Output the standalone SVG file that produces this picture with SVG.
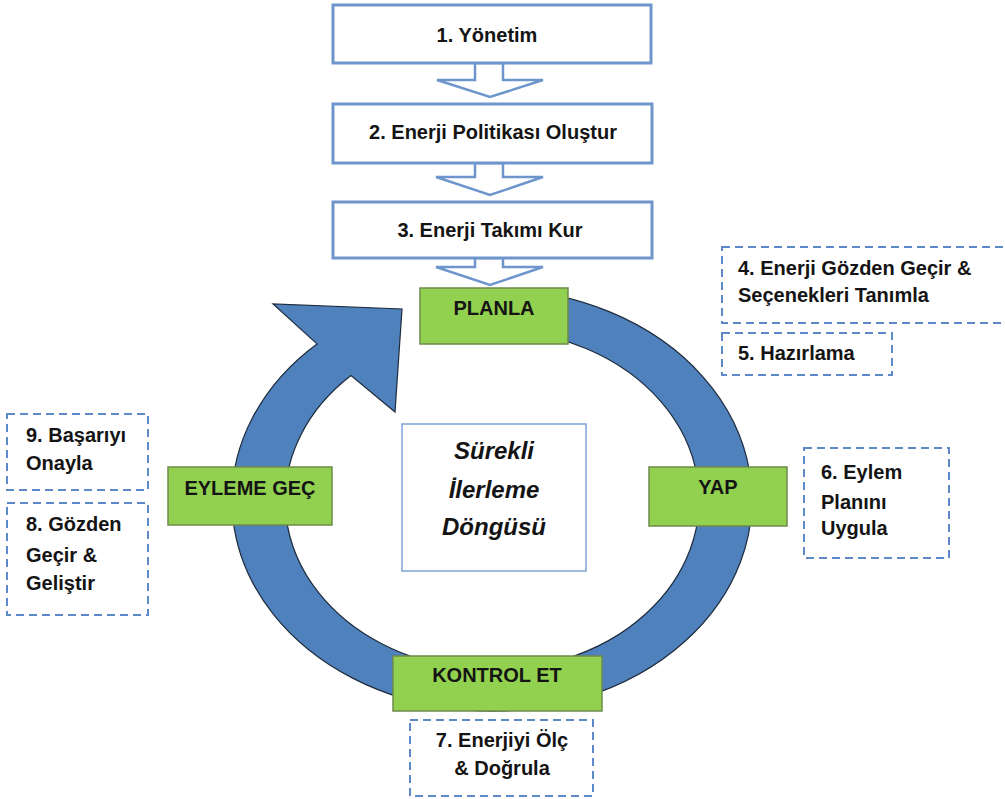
<svg xmlns="http://www.w3.org/2000/svg" width="1005" height="799" viewBox="0 0 1005 799">
<style>
  .t{font-family:"Liberation Sans",Arial,sans-serif;font-weight:bold;font-size:20px;fill:#141414}
  .mid{text-anchor:middle}
  .top{fill:#ffffff;stroke:#6e96cc;stroke-width:3}
  .arr{fill:#ffffff;stroke:#6e96cc;stroke-width:2.5;stroke-linejoin:miter}
  .green{fill:#92d050;stroke:#6f8a4a;stroke-width:1.5}
  .dash{fill:#ffffff;stroke:#5d89c8;stroke-width:2;stroke-dasharray:8 5}
  .ring{fill:#4f81bd;stroke:#1e2b3c;stroke-width:1.2;stroke-linejoin:miter}
  .center{fill:#ffffff;stroke:#7ea3d6;stroke-width:1.5}
  .it{font-family:"Liberation Sans",Arial,sans-serif;font-weight:bold;font-style:italic;font-size:24px;fill:#141414;text-anchor:middle}
</style>
<rect width="1005" height="799" fill="#ffffff"/>
<g id="connectors">
  <path class="ring" d="M 500 289.1 A 260 211 0 1 1 317 343.9 L 273 304 L 402 309 L 395 412 L 351 375.6 A 207 170 0 1 0 500 330.1 Z"/>
  <polygon class="arr" points="475,63 503,63 503,80 543,80 490,97 437,80 475,80"/>
  <polygon class="arr" points="475,163 503,163 503,177 543,177 490,195 436,177 475,177"/>
  <polygon class="arr" points="475,258 503,258 503,267 543,267 490,285 436,267 475,267"/>
</g>
<g id="n1">
  <rect class="top" x="333" y="5" width="318" height="58"/>
  <text class="t mid" x="487" y="42">1. Yönetim</text>
</g>
<g id="n2">
  <rect class="top" x="333" y="104" width="319" height="59"/>
  <text class="t mid" x="493" y="139">2. Enerji Politikası Oluştur</text>
</g>
<g id="n3">
  <rect class="top" x="333" y="202" width="319" height="56"/>
  <text class="t mid" x="490" y="237">3. Enerji Takımı Kur</text>
</g>
<g id="planla">
  <rect class="green" x="420" y="288" width="148" height="56"/>
  <text class="t mid" x="494" y="315">PLANLA</text>
</g>
<g id="yap">
  <rect class="green" x="649" y="467" width="138" height="59"/>
  <text class="t mid" x="718" y="494">YAP</text>
</g>
<g id="eyleme">
  <rect class="green" x="168" y="467" width="164" height="58"/>
  <text class="t mid" x="250" y="495">EYLEME GEÇ</text>
</g>
<g id="kontrol">
  <rect class="green" x="393" y="656" width="209" height="55"/>
  <text class="t mid" x="497" y="682">KONTROL ET</text>
</g>
<g id="center">
  <rect class="center" x="402" y="424" width="184" height="147"/>
  <text class="it" x="494" y="459">Sürekli</text>
  <text class="it" x="494" y="498">İlerleme</text>
  <text class="it" x="494" y="535">Döngüsü</text>
</g>
<g id="n4">
  <rect class="dash" x="722" y="247" width="290" height="76"/>
  <text class="t" x="738" y="275">4. Enerji Gözden Geçir &amp;</text>
  <text class="t" x="738" y="302">Seçenekleri Tanımla</text>
</g>
<g id="n5">
  <rect class="dash" x="722" y="333" width="170" height="42"/>
  <text class="t" x="738" y="360">5. Hazırlama</text>
</g>
<g id="n6">
  <rect class="dash" x="804" y="448" width="145" height="110"/>
  <text class="t" x="821" y="479">6. Eylem</text>
  <text class="t" x="821" y="509">Planını</text>
  <text class="t" x="821" y="535">Uygula</text>
</g>
<g id="n7">
  <rect class="dash" x="410" y="720" width="183" height="76"/>
  <text class="t mid" x="502" y="747">7. Enerjiyi Ölç</text>
  <text class="t mid" x="502" y="775">&amp; Doğrula</text>
</g>
<g id="n8">
  <rect class="dash" x="7" y="503" width="141" height="112"/>
  <text class="t" x="26" y="531">8. Gözden</text>
  <text class="t" x="26" y="562">Geçir &amp;</text>
  <text class="t" x="26" y="590">Geliştir</text>
</g>
<g id="n9">
  <rect class="dash" x="7" y="414" width="141" height="76"/>
  <text class="t" x="26" y="442">9. Başarıyı</text>
  <text class="t" x="26" y="470">Onayla</text>
</g>
</svg>
